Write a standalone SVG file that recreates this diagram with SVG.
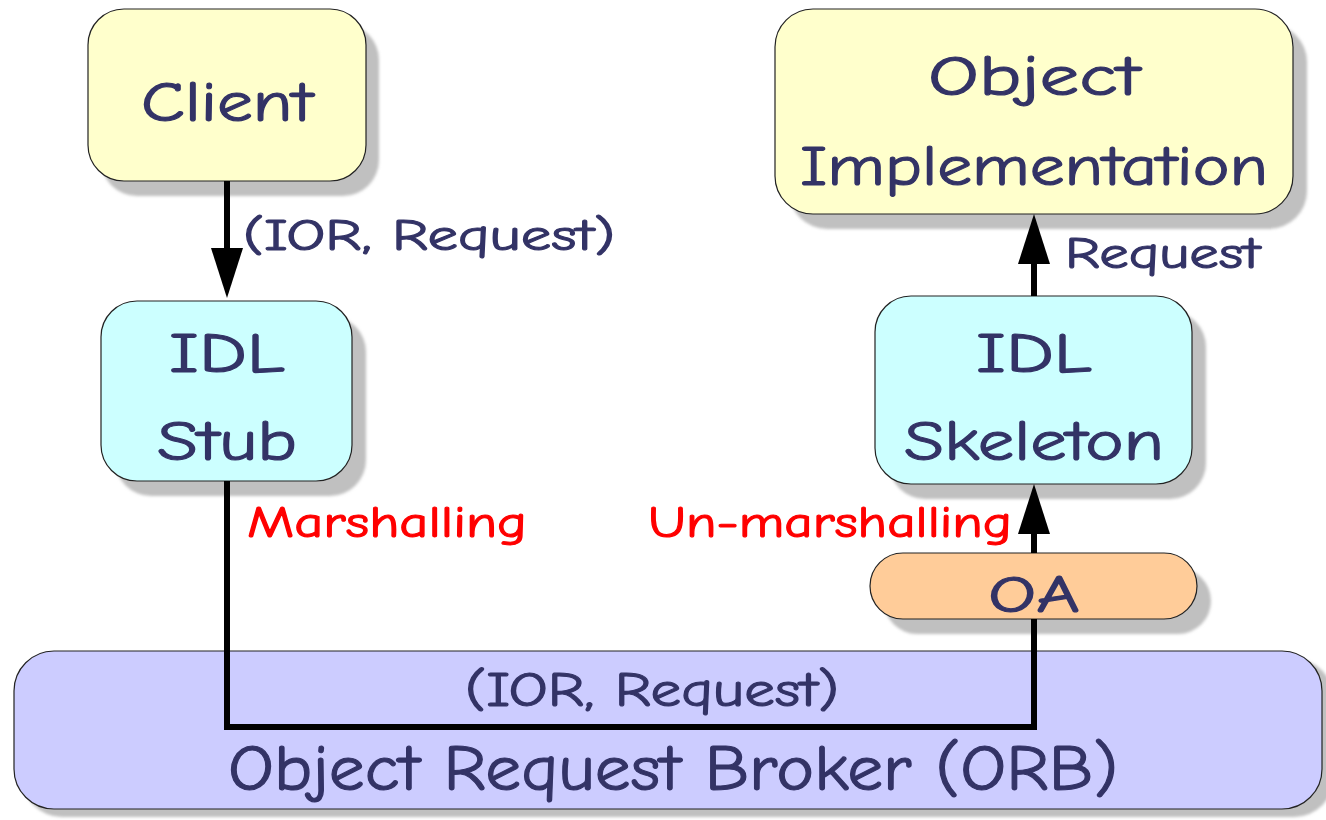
<svg xmlns="http://www.w3.org/2000/svg" width="1326" height="820" viewBox="0 0 1326 820">
  <defs>
    <filter id="soft" x="-10%" y="-10%" width="120%" height="120%">
      <feGaussianBlur stdDeviation="1.5"/>
    </filter>
    <!-- solid arrowhead, 50 long and 32 wide, starting at the end of its line -->
    <marker id="head" viewBox="0 0 50 32" refX="0" refY="16" markerWidth="50" markerHeight="32" markerUnits="userSpaceOnUse" orient="auto">
      <path d="M0,0 L50,16 L0,32 Z" fill="#000"/>
    </marker>
    <style>
      .shadow { fill: #c0c0c0; filter: url(#soft); }
      .box { stroke: #222; stroke-width: 1.2; }
      .yellow { fill: #ffffcc; }
      .cyan { fill: #ccffff; }
      .orange { fill: #ffcc99; }
      .lilac { fill: #ccccff; }
      .lbl, .side, .red { font-family: "Comic Neue", "DejaVu Sans", "Liberation Sans", sans-serif; stroke-width: 1.1; }
      .lbl { fill: #333366; stroke: #333366; text-anchor: middle; }
      .side { fill: #333366; stroke: #333366; }
      .red { fill: #ff0000; stroke: #ff0000; }
      .wire { fill: none; stroke: #000; stroke-width: 6; }
    </style>
  </defs>

  <!-- ORB bus -->
  <g id="orb">
    <rect class="shadow" x="22" y="659" width="1312" height="158" rx="40"/>
    <rect class="box lilac" x="14" y="651" width="1308" height="158" rx="40"/>
    <text class="lbl" x="652" y="706" font-size="48" textLength="374" lengthAdjust="spacingAndGlyphs">(IOR, Request)</text>
    <text class="lbl" x="673" y="790" font-size="64" textLength="890" lengthAdjust="spacingAndGlyphs">Object Request Broker (ORB)</text>
  </g>

  <!-- Client -->
  <g id="client">
    <rect class="shadow" x="101" y="24" width="278" height="172" rx="36"/>
    <rect class="box yellow" x="88" y="9" width="278" height="172" rx="36"/>
    <text class="lbl" x="227" y="121" font-size="56" textLength="172" lengthAdjust="spacingAndGlyphs">Client</text>
  </g>

  <!-- Object Implementation -->
  <g id="object-impl">
    <rect class="shadow" x="789" y="24" width="518" height="205" rx="38"/>
    <rect class="box yellow" x="775" y="9" width="518" height="205" rx="38"/>
    <text class="lbl" x="1034" y="95" font-size="56" textLength="212" lengthAdjust="spacingAndGlyphs">Object</text>
    <text class="lbl" x="1034" y="185" font-size="56" textLength="468" lengthAdjust="spacingAndGlyphs">Implementation</text>
  </g>

  <!-- IDL Stub -->
  <g id="idl-stub">
    <rect class="shadow" x="115" y="316" width="251" height="180" rx="36"/>
    <rect class="box cyan" x="101" y="301" width="251" height="180" rx="36"/>
    <text class="lbl" x="227" y="372" font-size="56" textLength="116" lengthAdjust="spacingAndGlyphs">IDL</text>
    <text class="lbl" x="227" y="460" font-size="56" textLength="140" lengthAdjust="spacingAndGlyphs">Stub</text>
  </g>

  <!-- IDL Skeleton -->
  <g id="idl-skeleton">
    <rect class="shadow" x="889" y="311" width="317" height="188" rx="36"/>
    <rect class="box cyan" x="875" y="296" width="317" height="188" rx="36"/>
    <text class="lbl" x="1034" y="372" font-size="56" textLength="116" lengthAdjust="spacingAndGlyphs">IDL</text>
    <text class="lbl" x="1034" y="460" font-size="56" textLength="260" lengthAdjust="spacingAndGlyphs">Skeleton</text>
  </g>

  <!-- Object Adapter -->
  <g id="oa">
    <rect class="shadow" x="884" y="568" width="327" height="66" rx="33"/>
    <rect class="box orange" x="870" y="553" width="327" height="66" rx="33"/>
    <text class="lbl" x="1034" y="612" font-size="52" textLength="92" lengthAdjust="spacingAndGlyphs">OA</text>
  </g>

  <!-- Connectors -->
  <g id="connectors">
    <line class="wire" x1="227" y1="181" x2="227" y2="248" marker-end="url(#head)"/>
    <line class="wire" x1="1034" y1="296" x2="1034" y2="264" marker-end="url(#head)"/>
    <line class="wire" x1="1034" y1="553" x2="1034" y2="534" marker-end="url(#head)"/>
    <path class="wire" d="M227,481 V727 H1034 V619" stroke-linejoin="miter"/>
  </g>

  <!-- Connector labels -->
  <g id="labels">
    <text class="side" x="243" y="250" font-size="44" textLength="372" lengthAdjust="spacingAndGlyphs">(IOR, Request)</text>
    <text class="side" x="1065" y="268" font-size="44" textLength="195" lengthAdjust="spacingAndGlyphs">Request</text>
    <text class="red" x="247" y="537" font-size="44" textLength="280" lengthAdjust="spacingAndGlyphs">Marshalling</text>
    <text class="red" x="648" y="537" font-size="44" textLength="364" lengthAdjust="spacingAndGlyphs">Un-marshalling</text>
  </g>
</svg>
